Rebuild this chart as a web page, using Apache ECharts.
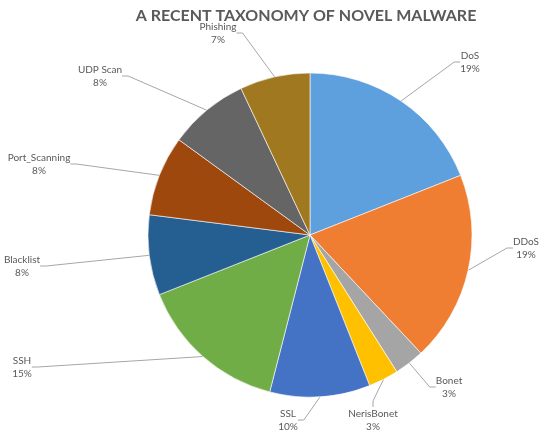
<!DOCTYPE html>
<html>
<head>
<meta charset="utf-8">
<script src="https://cdn.jsdelivr.net/npm/echarts@6/dist/echarts.min.js"></script>
<style>
  html, body { margin: 0; padding: 0; background: #fff; }
  #main { width: 550px; height: 433px; }
</style>
</head>
<body>
<div id="main"></div>
<script>
// 数据
const categories = ['DoS', 'DDoS', 'Bonet', 'NerisBonet', 'SSL', 'SSH', 'Blacklist', 'Port_Scanning', 'UDP Scan', 'Phishing']
const shares = [19, 19, 3, 3, 10, 15, 8, 8, 8, 7]
const colors = ['#5E9FDD', '#EF7E33', '#A5A5A5', '#FFC000', '#4472C4', '#70AD47', '#255E91', '#9E480E', '#656565', '#A07820']
// 标签位置 (Excel 的标签摆放)
const labelPos = [
  [470, 62], [526, 248], [449, 387], [373, 420], [288, 420],
  [22, 367], [22, 266], [39, 164], [100, 76], [218, 33]
]

let chart = echarts.init(document.getElementById('main'))

let pieData = categories.map(function (name, i) {
  return {
    name: name,
    value: shares[i],
    itemStyle: { color: colors[i] }
  }
})

chart.setOption({
  animation: false,
  title: {
    text: 'A RECENT TAXONOMY OF NOVEL MALWARE',
    left: 301,
    top: 3,
    textAlign: 'center',
    textStyle: {
      fontFamily: 'Lato',
      fontWeight: 'bold',
      fontSize: 16,
      color: '#595959'
    }
  },
  series: [{
    type: 'pie',
    center: [310, 235],
    radius: 162,
    startAngle: 90,
    clockwise: true,
    avoidLabelOverlap: false,
    data: pieData,
    itemStyle: {
      borderColor: '#fff',
      borderWidth: 0.6
    },
    label: {
      show: true,
      position: 'outside',
      formatter: '{b}\n{c}%',
      fontFamily: 'Lato',
      fontSize: 10,
      lineHeight: 13,
      color: '#595959',
      align: 'center'
    },
    labelLine: {
      show: true,
      length: 10,
      length2: 6,
      lineStyle: { color: '#A6A6A6', width: 1 }
    },
    labelLayout: function (params) {
      let p = labelPos[params.dataIndex]
      return {
        x: p[0],
        y: p[1],
        align: 'center',
        verticalAlign: 'middle'
      }
    }
  }]
})
</script>
</body>
</html>
